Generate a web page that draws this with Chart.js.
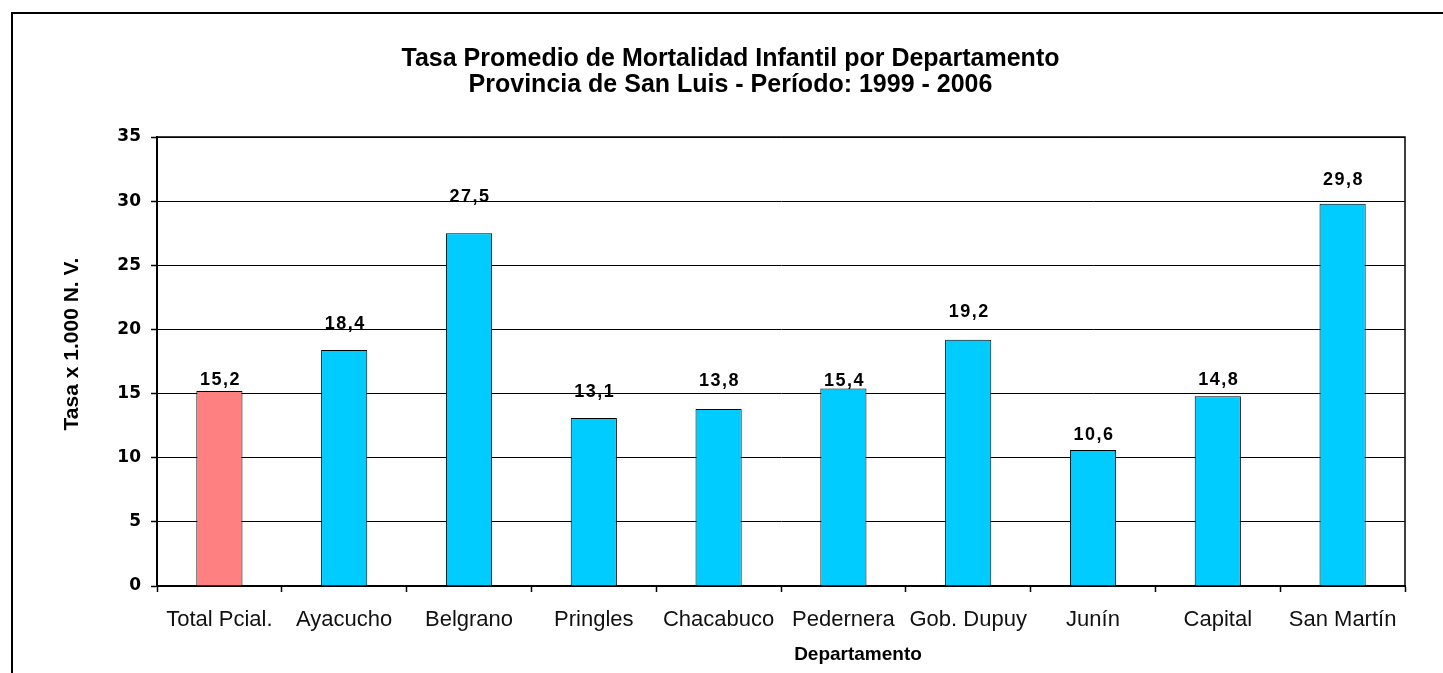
<!DOCTYPE html>
<html>
<head>
<meta charset="utf-8">
<script src="https://cdn.jsdelivr.net/npm/chart.js@4/dist/chart.umd.min.js"></script>
<style>
  html, body { margin:0; padding:0; background:#fff; overflow:hidden; }
  #frame { position:absolute; left:11px; top:12px; width:1500px; height:720px; border:2px solid #000; }
  #wrap { position:absolute; left:0; top:0; width:1443px; height:673px; }
</style>
</head>
<body>
<div id="frame"></div>
<div id="wrap"><canvas id="chart-mortalidad"></canvas></div>
<script>
const departamentos = ['Total Pcial.', 'Ayacucho', 'Belgrano', 'Pringles', 'Chacabuco', 'Pedernera', 'Gob. Dupuy', 'Junín', 'Capital', 'San Martín'];
const tasas = [15.2, 18.4, 27.5, 13.1, 13.8, 15.4, 19.2, 10.6, 14.8, 29.8];
const yTicks = [0, 5, 10, 15, 20, 25, 30, 35];
const xTitle = 'Departamento';
const yTitle = 'Tasa x 1.000 N. V.';

const barColors = departamentos.map((d, i) => i === 0 ? '#FF8080' : '#00CCFF');
// gap in px between each value label baseline and its bar top (labels were hand-placed in the original)
const labelGap = [6, 21, 31, 21, 23, 2, 23, 10, 11, 19];

const plotFrame = {
  id: 'plotFrame',
  afterDraw(chart) {
    const { ctx, chartArea: a } = chart;
    ctx.save();
    ctx.strokeStyle = '#000';
    ctx.lineWidth = 1.5;
    ctx.beginPath();
    ctx.moveTo(a.left, a.top);
    ctx.lineTo(a.right, a.top);
    ctx.lineTo(a.right, a.bottom);
    ctx.stroke();
    ctx.restore();
  }
};

// axis titles sit a little off-centre in the original, so they are drawn here
const axisTitles = {
  id: 'axisTitles',
  afterDraw(chart) {
    const { ctx } = chart;
    ctx.save();
    ctx.fillStyle = '#000';
    ctx.textAlign = 'center';
    ctx.textBaseline = 'middle';
    ctx.font = 'bold 19px "Liberation Sans", Arial';
    ctx.fillText(xTitle, 858, 655);
    ctx.translate(72, 344);
    ctx.rotate(-Math.PI / 2);
    ctx.font = 'bold 21px "Liberation Sans", Arial';
    ctx.fillText(yTitle, 0, 0);
    ctx.restore();
  }
};

const valueLabels = {
  id: 'valueLabels',
  afterDatasetsDraw(chart) {
    const { ctx } = chart;
    const meta = chart.getDatasetMeta(0);
    ctx.save();
    ctx.font = 'bold 18px "Liberation Sans", Arial';
    ctx.letterSpacing = '1.5px';
    ctx.fillStyle = '#000';
    ctx.textAlign = 'center';
    ctx.textBaseline = 'alphabetic';
    meta.data.forEach((bar, i) => {
      const txt = tasas[i].toFixed(1).replace('.', ',');
      ctx.fillText(txt, bar.x + 1, bar.y - labelGap[i]);
    });
    ctx.restore();
  }
};

new Chart(document.getElementById('chart-mortalidad'), {
  type: 'bar',
  data: {
    labels: departamentos,
    datasets: [{
      data: tasas,
      backgroundColor: barColors,
      borderColor: '#000',
      borderWidth: 1,
      categoryPercentage: 1,
      barPercentage: 0.37
    }]
  },
  options: {
    responsive: true, maintainAspectRatio: false, animation: false,
    layout: { padding: { left: 56, right: 38, top: 0, bottom: 3 } },
    plugins: {
      legend: { display: false },
      tooltip: { enabled: false },
      title: {
        display: true,
        text: ['Tasa Promedio de Mortalidad Infantil por Departamento', 'Provincia de San Luis - Período: 1999 - 2006'],
        color: '#000',
        font: { family: '"Liberation Sans", Arial', size: 25, weight: 'bold', lineHeight: 1.04 },
        padding: { top: 46, bottom: 39 }
      }
    },
    scales: {
      x: {
        afterFit: s => { s.height = 84; },
        grid: { display: true, drawOnChartArea: false, drawTicks: true, tickLength: 6, tickColor: '#000', tickWidth: 1.5 },
        border: { display: true, color: '#000', width: 2 },
        ticks: { color: '#111', padding: 15, maxRotation: 0, font: { family: '"Liberation Sans", Arial', size: 22 } }
      },
      y: {
        min: 0, max: 35,
        afterFit: s => { s.width = 101; },
        afterBuildTicks: s => { s.ticks = yTicks.map(v => ({ value: v })); },
        grid: { color: '#000', lineWidth: 1, borderDash: [2, 2], tickBorderDash: [], tickLength: 6, tickColor: '#000', tickWidth: 1.5 },
        border: { display: true, color: '#000', width: 2 },
        ticks: { color: '#000', padding: 10, font: { family: '"DejaVu Sans"', size: 17, weight: 'bold' } }
      }
    }
  },
  plugins: [plotFrame, axisTitles, valueLabels]
});
</script>
</body>
</html>
